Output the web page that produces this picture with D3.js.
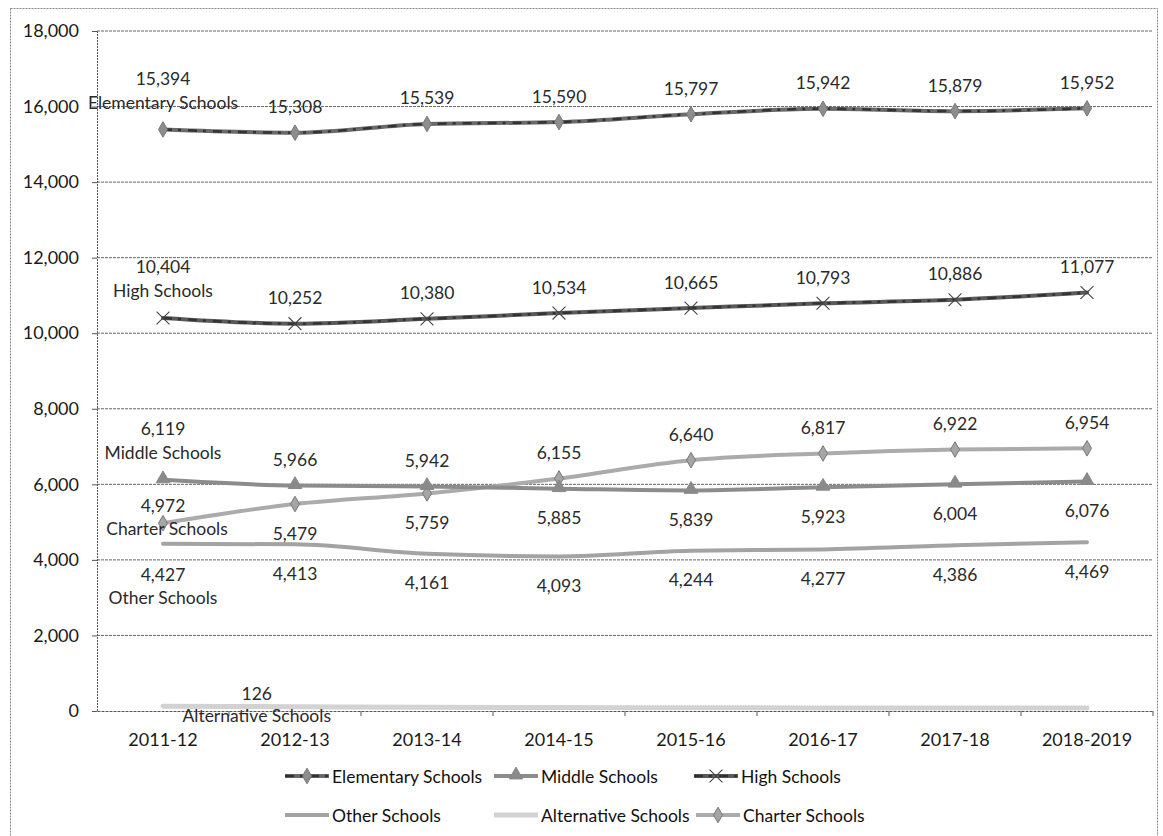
<!DOCTYPE html>
<html>
<head>
<meta charset="utf-8">
<script src="https://cdn.jsdelivr.net/npm/d3@7"></script>
<style>
  html, body { margin: 0; padding: 0; background: #fff; }
  svg { display: block; font-family: Lato, "Open Sans", sans-serif; }
</style>
</head>
<body>
<svg id="chart" width="1163" height="836"></svg>
<script>
// ---------- data ----------
const categories = ["2011-12", "2012-13", "2013-14", "2014-15", "2015-16", "2016-17", "2017-18", "2018-2019"];
const elementary = [15394, 15308, 15539, 15590, 15797, 15942, 15879, 15952];
const middle     = [6119, 5966, 5942, 5885, 5839, 5923, 6004, 6076];
const high       = [10404, 10252, 10380, 10534, 10665, 10793, 10886, 11077];
const other      = [4427, 4413, 4161, 4093, 4244, 4277, 4386, 4469];
const alternative= [126, 112, 98, 90, 86, 82, 80, 78];
const charter    = [4972, 5479, 5759, 6155, 6640, 6817, 6922, 6954];
const yTicks = [0, 2000, 4000, 6000, 8000, 10000, 12000, 14000, 16000, 18000];
// label placement flags (a = above, b = below, c = centred), first point carries series name
const middleSide  = ["a","a","a","b","b","b","b","b"];
const charterSide = ["c","b","b","a","a","a","a","a"];

// ---------- layout ----------
const svg = d3.select("#chart");
const L = 97, R = 1153, T = 31, B = 711;
const x = d3.scaleBand().domain(categories).range([L, R]);
const cx = d => x(d) + x.bandwidth() / 2;
const y = d3.scaleLinear().domain([0, 18000]).range([B, T]);
const fmt = d3.format(",");
const FS = 18;

// outer frame
svg.append("rect").attr("x", 10.5).attr("y", 8.5).attr("width", 1147).attr("height", 840)
  .attr("fill", "none").attr("stroke", "#888").attr("stroke-width", 1).attr("stroke-dasharray", "2,1");

// grid
svg.append("g").selectAll("line").data(yTicks.filter(v => v > 0)).join("line")
  .attr("x1", L).attr("x2", R).attr("y1", d => y(d)).attr("y2", d => y(d))
  .attr("stroke", "#666").attr("stroke-width", 1).attr("stroke-dasharray", "3,1");

// y axis
const yAxis = svg.append("g").attr("transform", `translate(${L},0)`)
  .call(d3.axisLeft(y).tickValues(yTicks).tickFormat(fmt).tickSize(5).tickPadding(13));
yAxis.select(".domain").attr("stroke", "#555").attr("stroke-dasharray", "2,1");
yAxis.selectAll(".tick line").attr("stroke", "#555");
yAxis.selectAll("text").attr("font-size", FS).attr("fill", "#1a1a1a").attr("font-family", "Lato, sans-serif");

// x axis
const xAxis = svg.append("g").attr("transform", `translate(0,${B})`)
  .call(d3.axisBottom(x).tickSize(0).tickPadding(22));
xAxis.select(".domain").attr("stroke", "#555").attr("stroke-dasharray", "3,1");
xAxis.selectAll("text").attr("font-size", FS).attr("fill", "#1a1a1a").attr("font-family", "Lato, sans-serif");
// boundary ticks
svg.append("g").selectAll("line").data(categories).join("line")
  .attr("x1", (d, i) => L + x.bandwidth() * (i + 1)).attr("x2", (d, i) => L + x.bandwidth() * (i + 1))
  .attr("y1", B).attr("y2", B + 5).attr("stroke", "#555");

// ---------- series ----------
const line = d3.line().x((d, i) => cx(categories[i])).y(d => y(d)).curve(d3.curveMonotoneX);

const series = [
  {name: "Alternative Schools", data: alternative, color: "#d2d2d2", width: 5, marker: null},
  {name: "Other Schools", data: other, color: "#a3a3a3", width: 4, marker: null},
  {name: "Charter Schools", data: charter, color: "#ababab", width: 4, marker: "diamond", mfill: "#a5a5a5"},
  {name: "Middle Schools", data: middle, color: "#8c8c8c", width: 4, marker: "triangle", mfill: "#8a8a8a"},
  {name: "High Schools", data: high, color: "#5a5a5a", width: 4, marker: "x", mfill: "#444"},
  {name: "Elementary Schools", data: elementary, color: "#6a6a6a", width: 4, marker: "diamond", mfill: "#8d8d8d"}
];

function drawMarker(g, type, px, py, fill) {
  if (type === "diamond") {
    g.append("path").attr("d", d3.symbol(d3.symbolDiamond, 70)())
      .attr("transform", `translate(${px},${py})`).attr("fill", fill).attr("stroke", "#777").attr("stroke-width", 1);
  } else if (type === "triangle") {
    g.append("path").attr("d", d3.symbol(d3.symbolTriangle, 80)())
      .attr("transform", `translate(${px},${py - 1})`).attr("fill", fill).attr("stroke", "#888");
  } else if (type === "x") {
    g.append("path").attr("d", d3.symbol(d3.symbolTimes, 110)())
      .attr("transform", `translate(${px},${py})`).attr("fill", "none").attr("stroke", fill).attr("stroke-width", 1.1);
  }
}

const plot = svg.append("g");
series.forEach(s => {
  plot.append("path").datum(s.data).attr("d", line).attr("fill", "none")
    .attr("stroke", s.color).attr("stroke-width", s.width).attr("stroke-linecap", "round");
  if (s.name === "Elementary Schools" || s.name === "High Schools") {
    plot.append("path").datum(s.data).attr("d", line).attr("fill", "none")
      .attr("stroke", "#333").attr("stroke-width", 2.5).attr("stroke-dasharray", "9,6,3,7");
  }
  if (s.marker) {
    s.data.forEach((v, i) => drawMarker(plot, s.marker, cx(categories[i]), y(v), s.mfill));
  }
});

// ---------- data labels ----------
const lab = svg.append("g").attr("font-size", 17.5).attr("fill", "#2a2a2a")
  .attr("text-anchor", "middle").attr("dominant-baseline", "central");
function label(px, py, text) { lab.append("text").attr("x", px).attr("y", py).text(text); }

function labelSeries(name, data, sides) {
  data.forEach((v, i) => {
    const px = cx(categories[i]), py = y(v);
    const s = sides[i];
    if (i === 0) {
      if (s === "a") { label(px, py - 51, fmt(v)); label(px, py - 27, name); }
      else if (s === "b") { label(px, py + 31, fmt(v)); label(px, py + 54, name); }
      else { label(px, py - 18, fmt(v)); label(px + 4, py + 5, name); }
    } else {
      if (s === "a") label(px, py - 26, fmt(v));
      else label(px, py + 29, fmt(v));
    }
  });
}
labelSeries("Elementary Schools", elementary, elementary.map(() => "a"));
labelSeries("High Schools", high, high.map(() => "a"));
labelSeries("Middle Schools", middle, middleSide);
labelSeries("Charter Schools", charter, charterSide);
labelSeries("Other Schools", other, other.map(() => "b"));
// alternative: only first value labelled, label box shifted right
{
  const px = cx(categories[0]) + x.bandwidth() * 0.71, py = y(alternative[0]);
  label(px, py - 13, fmt(alternative[0]));
  label(px, py + 9, "Alternative Schools");
}

// ---------- legend ----------
const legendItems = [
  {s: series[5], lx: 285, ly: 776},
  {s: series[3], lx: 494, ly: 776},
  {s: series[4], lx: 694, ly: 776},
  {s: series[1], lx: 285, ly: 815},
  {s: series[0], lx: 494, ly: 815},
  {s: series[2], lx: 696, ly: 815}
];
const lg = svg.append("g");
legendItems.forEach(it => {
  const s = it.s;
  lg.append("line").attr("x1", it.lx).attr("x2", it.lx + 44).attr("y1", it.ly).attr("y2", it.ly)
    .attr("stroke", s.color).attr("stroke-width", s.width);
  if (s.name === "Elementary Schools" || s.name === "High Schools") {
    lg.append("line").attr("x1", it.lx).attr("x2", it.lx + 44).attr("y1", it.ly).attr("y2", it.ly)
      .attr("stroke", "#333").attr("stroke-width", 2.5).attr("stroke-dasharray", "9,6,3,7");
  }
  if (s.marker) drawMarker(lg, s.marker, it.lx + 22, it.ly, s.mfill);
  lg.append("text").attr("x", it.lx + 47).attr("y", it.ly).attr("dominant-baseline", "central")
    .attr("font-size", 17.5).attr("fill", "#111").text(s.name);
});
</script>
</body>
</html>
